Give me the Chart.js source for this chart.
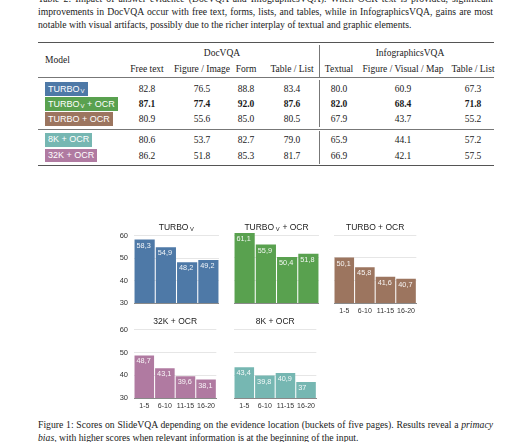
<!DOCTYPE html>
<html><head><meta charset="utf-8">
<script src="https://cdn.jsdelivr.net/npm/chart.js@4/dist/chart.umd.min.js"></script>
<style>
html,body{margin:0;padding:0;background:#fff;}
body{width:530px;height:442px;overflow:hidden;position:relative;font-family:"Liberation Serif","Times New Roman",serif;color:#1a1a1a;}
.ln{position:absolute;left:38px;width:455px;font-size:9.7px;line-height:13px;white-space:nowrap;}
.j{text-align:justify;text-align-last:justify;}
.t{position:absolute;transform:translate(-50%,-50%);white-space:nowrap;font-size:9.5px;line-height:12px;}
.tl{position:absolute;transform:translate(0,-50%);white-space:nowrap;font-size:9.5px;line-height:12px;}
.rule{position:absolute;left:38px;width:456px;background:#555;}
.vr{position:absolute;left:319px;width:0.8px;background:#777;}
.box{position:absolute;left:45px;color:#fff;font-family:"Liberation Sans",Arial,sans-serif;font-size:9px;padding:0 3px;white-space:nowrap;}
.box sub{font-size:6px;vertical-align:-1px;margin-left:1px;}
canvas{position:absolute;}
</style>
</head><body>
<div class="ln j" style="top:-8.5px">Table 2: Impact of answer evidence (DocVQA and InfographicsVQA). When OCR text is provided, significant</div>
<div class="ln j" style="top:4.5px">improvements in DocVQA occur with free text, forms, lists, and tables, while in InfographicsVQA, gains are most</div>
<div class="ln" style="top:17.5px">notable with visual artifacts, possibly due to the richer interplay of textual and graphic elements.</div>

<div id="table"></div>

<canvas id="c1"></canvas><canvas id="c2"></canvas><canvas id="c3"></canvas><canvas id="c4"></canvas><canvas id="c5"></canvas>

<div class="ln j" style="top:417.5px">Figure 1: Scores on SlideVQA depending on the evidence location (buckets of five pages). Results reveal a <i>primacy</i></div>
<div class="ln" style="top:430.5px"><i>bias</i>, with higher scores when relevant information is at the beginning of the input.</div>

<script>
// ---------- Table data ----------
const tableGroups = ['DocVQA', 'InfographicsVQA'];
const tableColumns = ['Free text', 'Figure / Image', 'Form', 'Table / List', 'Textual', 'Figure / Visual / Map', 'Table / List'];
const modelNames = ['TURBO|V|', 'TURBO|V| + OCR', 'TURBO + OCR', '8K + OCR', '32K + OCR'];
const modelColors = ['#4e79a7', '#59a14f', '#9c755f', '#76b7b2', '#b07aa1'];
const rowTurboV     = ['82.8', '76.5', '88.8', '83.4', '80.0', '60.9', '67.3'];
const rowTurboVOcr  = ['87.1', '77.4', '92.0', '87.6', '82.0', '68.4', '71.8'];
const rowTurboOcr   = ['80.9', '55.6', '85.0', '80.5', '67.9', '43.7', '55.2'];
const row8kOcr      = ['80.6', '53.7', '82.7', '79.0', '65.9', '44.1', '57.2'];
const row32kOcr     = ['86.2', '51.8', '85.3', '81.7', '66.9', '42.1', '57.5'];
const boldRow = 1;

// ---------- Chart data ----------
const buckets = ['1-5', '6-10', '11-15', '16-20'];
const turboV    = [58.3, 54.9, 48.2, 49.2];
const turboVOcr = [61.1, 55.9, 50.4, 51.8];
const turboOcr  = [50.1, 45.8, 41.6, 40.7];
const k32Ocr    = [48.7, 43.1, 39.6, 38.1];
const k8Ocr     = [43.4, 39.8, 40.9, 37];
const yTicks    = [30, 40, 50, 60];

// ---------- Build table ----------
(function(){
  const root = document.getElementById('table');
  const add = (cls, style, html) => { const d = document.createElement('div'); d.className = cls; d.setAttribute('style', style); d.innerHTML = html; root.appendChild(d); };
  add('rule', 'top:42.3px;height:1.2px', '');
  add('rule', 'top:77.4px;height:0.7px;background:#777', '');
  add('rule', 'top:128.9px;height:0.7px;background:#777', '');
  add('rule', 'top:165px;height:1.2px', '');
  add('vr', 'top:45px;height:32px', '');
  add('vr', 'top:80px;height:47px', '');
  add('vr', 'top:131px;height:33px', '');
  add('tl', 'left:45px;top:60px', 'Model');
  const gx = [222, 410];
  tableGroups.forEach((g, i) => add('t', `left:${gx[i]}px;top:52.5px`, g));
  const cx = [147, 202, 246, 292, 339, 403, 473];
  tableColumns.forEach((c, i) => add('t', `left:${cx[i]}px;top:69px`, c));
  const rows = [rowTurboV, rowTurboVOcr, rowTurboOcr, row8kOcr, row32kOcr];
  const ry = [89.2, 103.8, 118.8, 140.2, 155.5];
  const bh = [14.6, 14.6, 14.6, 13.6, 13.6];
  rows.forEach((r, i) => {
    const name = modelNames[i].replace(/\|(.*?)\|/, '<sub>$1</sub>');
    add('box', `top:${ry[i] - bh[i] / 2}px;height:${bh[i]}px;line-height:${bh[i]}px;background:${modelColors[i]}`, name);
    r.forEach((v, k) => add('t', `left:${cx[k]}px;top:${ry[i]}px;${i === boldRow ? 'font-weight:bold;' : ''}`, v));
  });
})();

// ---------- Charts ----------
const panels = [
  { id: 'c1', data: turboV,    color: '#4e79a7', title: ['TURBO', 'V', ''],       left: 112, top: 223, h: 95, chartH: 70, showY: true,  showX: false },
  { id: 'c2', data: turboVOcr, color: '#59a14f', title: ['TURBO', 'V', ' + OCR'], left: 212, top: 223, h: 95, chartH: 70, showY: false, showX: false },
  { id: 'c3', data: turboOcr,  color: '#9c755f', title: ['TURBO + OCR', '', ''],  left: 312, top: 223, h: 95, chartH: 70, showY: false, showX: true },
  { id: 'c4', data: k32Ocr,    color: '#b07aa1', title: ['32K + OCR', '', ''],    left: 112, top: 317, h: 96, chartH: 71, showY: true,  showX: true },
  { id: 'c5', data: k8Ocr,     color: '#76b7b2', title: ['8K + OCR', '', ''],     left: 212, top: 317, h: 96, chartH: 71, showY: false, showX: true }
];

const SANS = '"Liberation Sans", Arial, sans-serif';

const valueLabels = {
  id: 'valueLabels',
  afterDatasetsDraw(chart) {
    const ctx = chart.ctx;
    const meta = chart.getDatasetMeta(0);
    const ds = chart.data.datasets[0].data;
    ctx.save();
    ctx.font = '7.3px ' + SANS;
    ctx.fillStyle = 'rgba(255,255,255,0.92)';
    ctx.textAlign = 'left';
    ctx.textBaseline = 'middle';
    meta.data.forEach((bar, i) => {
      const txt = String(ds[i]).replace('.', ',');
      const top = Math.max(bar.y, chart.chartArea.top);
      ctx.fillText(txt, bar.x - bar.width / 2 + 2, top + 6);
    });
    ctx.restore();
  }
};

const panelTitle = {
  id: 'panelTitle',
  afterDraw(chart, args, opts) {
    const parts = opts.parts;
    const ctx = chart.ctx;
    const mainFont = '8.5px ' + SANS, subFont = '5.8px ' + SANS;
    ctx.save();
    ctx.fillStyle = '#222';
    ctx.textBaseline = 'middle';
    ctx.textAlign = 'left';
    ctx.font = mainFont; const w0 = ctx.measureText(parts[0]).width; const w2 = ctx.measureText(parts[2]).width;
    ctx.font = subFont; const w1 = parts[1] ? ctx.measureText(parts[1]).width + 2 : 0;
    const total = w0 + w1 + w2;
    const ca = chart.chartArea;
    let x = (ca.left + ca.right) / 2 - total / 2;
    const y = ca.top - 5.5;
    ctx.font = mainFont; ctx.fillText(parts[0], x, y); x += w0;
    if (parts[1]) { ctx.font = subFont; ctx.fillText(parts[1], x + 1.5, y + 1.8); x += w1; }
    ctx.font = mainFont; ctx.fillText(parts[2], x, y);
    ctx.restore();
  }
};

panels.forEach(p => {
  const cv = document.getElementById(p.id);
  cv.width = 107; cv.height = p.h;
  cv.style.left = p.left + 'px'; cv.style.top = p.top + 'px';
  cv.style.width = '107px'; cv.style.height = p.h + 'px';
  const xAxisH = p.h - 10 - p.chartH;
  new Chart(cv, {
    type: 'bar',
    data: { labels: buckets, datasets: [{ data: p.data, backgroundColor: p.color, borderWidth: 0, categoryPercentage: 0.95, barPercentage: 1 }] },
    options: {
      responsive: false, animation: false, devicePixelRatio: 1,
      layout: { padding: { top: 10, left: 0, right: 0, bottom: 0 } },
      plugins: { legend: { display: false }, tooltip: { enabled: false }, title: { display: false }, panelTitle: { parts: p.title } },
      scales: {
        x: {
          grid: { display: false, drawTicks: false },
          border: { display: true, color: '#8a8a8a', width: 1 },
          ticks: { display: p.showX, font: { family: SANS, size: 7 }, color: '#333', padding: 4, maxRotation: 0, autoSkip: false },
          afterFit: s => { s.height = xAxisH; }
        },
        y: {
          min: 30, max: 61,
          grid: { color: '#e6e6e6', lineWidth: 1, drawTicks: false },
          border: { display: false },
          afterBuildTicks: s => { s.ticks = yTicks.map(v => ({ value: v })); },
          ticks: { display: p.showY, font: { family: SANS, size: 7.5 }, color: '#333', padding: 6 },
          afterFit: s => { s.width = 22; }
        }
      }
    },
    plugins: [valueLabels, panelTitle]
  });
});
</script>
</body></html>
